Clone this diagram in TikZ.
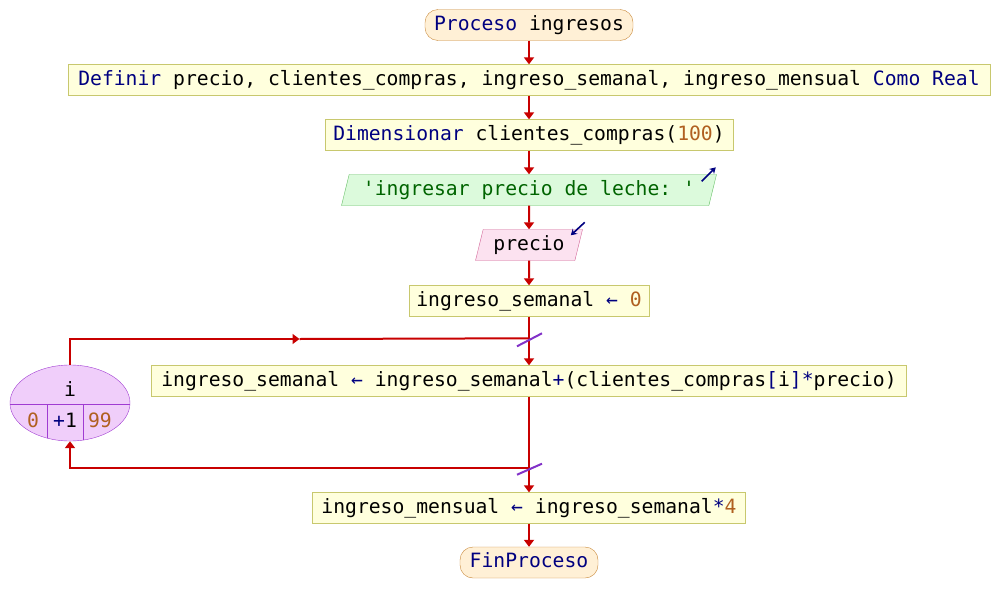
\documentclass[tikz,border=0pt]{standalone}
\usepackage{fontspec}
\usepackage{xcolor}
\setmonofont{DejaVu Sans Mono}
\definecolor{psred}{RGB}{200, 0, 0}
\definecolor{pskw}{RGB}{0, 0, 128}
\definecolor{psnum}{RGB}{176, 96, 32}
\definecolor{psstr}{RGB}{0, 100, 0}
\definecolor{psterm}{RGB}{255, 240, 214}
\definecolor{pstermline}{RGB}{200, 136, 56}
\definecolor{psbox}{RGB}{255, 255, 221}
\definecolor{psboxline}{RGB}{200, 200, 110}
\definecolor{psout}{RGB}{220, 250, 220}
\definecolor{psoutline}{RGB}{100, 190, 100}
\definecolor{psin}{RGB}{252, 226, 240}
\definecolor{psinline}{RGB}{210, 100, 150}
\definecolor{psloop}{RGB}{240, 206, 250}
\definecolor{psloopline}{RGB}{160, 60, 210}
\definecolor{psslash}{RGB}{130, 50, 200}
\usetikzlibrary{shapes,arrows.meta,positioning}
\newcommand{\kw}[1]{\textcolor{pskw}{#1}}
\newcommand{\nmb}[1]{\textcolor{psnum}{#1}}

\begin{document}
\begin{tikzpicture}[x=1pt, y=1pt, node distance=55pt,
    every node/.style={font=\ttfamily\fontsize{19.7}{24}\selectfont, text height=14pt, text depth=4pt, inner xsep=5pt, inner ysep=0pt, minimum height=31pt},
    terminal/.style={rectangle, rounded corners=13pt, draw=pstermline, fill=psterm},
    action/.style={rectangle, draw=psboxline, fill=psbox},
    output/.style={trapezium, trapezium left angle=67, trapezium right angle=113, trapezium stretches body, draw=psoutline, fill=psout},
    input/.style={trapezium, trapezium left angle=67, trapezium right angle=113, trapezium stretches body, draw=psinline, fill=psin},
    loopnode/.style={ellipse, draw=psloopline, fill=psloop, minimum width=120pt, minimum height=76pt, inner sep=0pt,
        path picture={
            \draw[psloopline] ([yshift=-1pt]path picture bounding box.west) -- ([yshift=-1pt]path picture bounding box.east);
            \draw[psloopline] ([xshift=-22.5pt,yshift=-1pt]path picture bounding box.center) -- ([xshift=-22.5pt]path picture bounding box.south);
            \draw[psloopline] ([xshift=13.5pt,yshift=-1pt]path picture bounding box.center) -- ([xshift=13.5pt]path picture bounding box.south);
        }},
    flow/.style={-{Triangle[width=10pt,length=7pt]}, line width=2pt, psred},
    line/.style={line width=2pt, psred},
    slash/.style={line width=2pt, psslash},
    ioarrow/.style={-{Stealth[width=7pt,length=6pt]}, line width=1.6pt, pskw}
]
    \useasboundingbox (0,0) rectangle (1001,-613);

    \node[terminal, minimum width=208pt] (start) at (529,-25) {\kw{Proceso} ingresos};
    \node[action, minimum width=922pt, below of=start] (defs) {\kw{Definir} precio, clientes\_compras, ingreso\_semanal, ingreso\_mensual \kw{Como Real}};
    \node[action, minimum width=408pt, below of=defs] (dims) {\kw{Dimensionar} clientes\_compras(\nmb{100})};
    \node[output, minimum width=375pt, below of=dims] (ask) {\textcolor{psstr}{'ingresar precio de leche: '}};
    \node[input, minimum width=107pt, below of=ask] (read) {precio};
    \node[action, minimum width=240pt, below of=read, node distance=56pt] (init) {ingreso\_semanal \kw{←} \nmb{0}};
    \node[action, minimum width=755pt, below of=init, node distance=80pt] (body) {ingreso\_semanal \kw{←} ingreso\_semanal\kw{+}(clientes\_compras\kw{[}i\kw{]}\kw{*}precio)};
    \node[action, minimum width=433pt, below of=body, node distance=127pt] (month) {ingreso\_mensual \kw{←} ingreso\_semanal\kw{*}\nmb{4}};
    \node[terminal, minimum width=138pt, below of=month, node distance=54.5pt] (stop) {\kw{FinProceso}};

    % para loop
    \node[loopnode] (loop) at (70,-403) {};
    \node[minimum height=0pt] (var) at ([yshift=12pt]loop.center) {i};
    \node[minimum height=0pt] (from) at ([xshift=-37pt,yshift=-19pt]loop.center) {\nmb{0}};
    \node[minimum height=0pt] (inc) at ([xshift=-5pt,yshift=-19pt]loop.center) {\kw{+}1};
    \node[minimum height=0pt] (upto) at ([xshift=30pt,yshift=-19pt]loop.center) {\nmb{99}};

    \coordinate[above=27pt of body.north] (looptop);
    \coordinate[below=71pt of body.south] (loopbot);
    \coordinate (topmid) at (299.5,-339);

    \draw[flow] (start) -- (defs);
    \draw[flow] (defs) -- (dims);
    \draw[flow] (dims) -- (ask);
    \draw[flow] (ask) -- (read);
    \draw[flow] (read) -- (init);
    \draw[flow] (init) -- (body);
    \draw[line] (body) -- (loopbot);
    \draw[flow] (loopbot) -- (month);
    \draw[flow] (month) -- (stop);
    \draw[flow] (loop) |- (topmid);
    \draw[line] (topmid) -- (looptop);
    \draw[flow] (loopbot) -| (loop);

    \draw[slash] ([shift={(-12pt,-8pt)}]looptop) -- ([shift={(13pt,5pt)}]looptop);
    \draw[slash] ([shift={(-12pt,-7pt)}]loopbot) -- ([shift={(13pt,4pt)}]loopbot);

    % marcas de entrada / salida
    \draw[ioarrow] ([shift={(-15pt,-7pt)}]ask.top right corner) -- ([shift={(-1pt,7pt)}]ask.top right corner);
    \draw[ioarrow] ([shift={(2pt,7pt)}]read.top right corner) -- ([shift={(-12pt,-6pt)}]read.top right corner);
\end{tikzpicture}
\end{document}
